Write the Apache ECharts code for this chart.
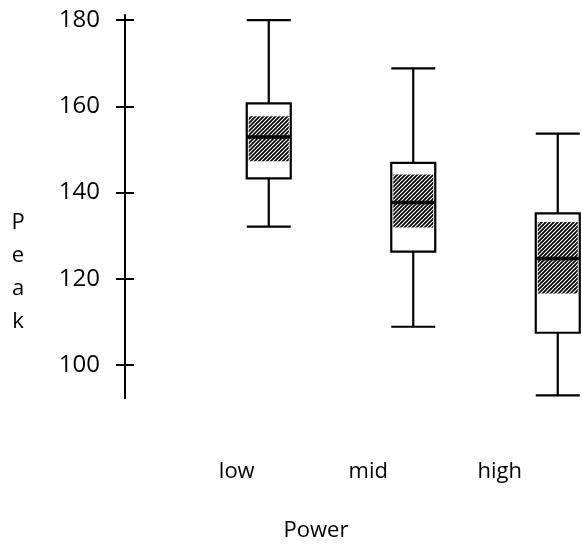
<!DOCTYPE html>
<html>
<head>
<meta charset="utf-8">
<style>
  html, body { margin: 0; padding: 0; background: #fff; }
  #chart { width: 582px; height: 546px; }
</style>
<script src="https://cdn.jsdelivr.net/npm/echarts@6/dist/echarts.min.js"></script>
</head>
<body>
<div id="chart"></div>
<script>
// Peak by power level
const categories = ['low', 'mid', 'high'];
// [lower whisker, Q1, median, Q3, upper whisker]
const boxValues = [
  [132.1, 143.3, 152.9, 160.7, 180.0],
  [108.9, 126.3, 137.7, 146.9, 168.8],
  [93.0, 107.5, 124.7, 135.2, 153.7]
];
// shaded interval around the median: [low, high]
const medianBand = [
  [147.3, 157.7],
  [131.9, 144.2],
  [116.6, 133.2]
];
const yTicks = [100, 120, 140, 160, 180];
const yMin = 92.3;
const yMax = 181.2;

const FONT = '"Open Sans", "Noto Sans", sans-serif';

// diagonal hatching tile
function hatchTile() {
  const s = 4;
  const c = document.createElement('canvas');
  c.width = s; c.height = s;
  const g = c.getContext('2d');
  g.fillStyle = '#fff';
  g.fillRect(0, 0, s, s);
  g.strokeStyle = '#000';
  g.lineWidth = 1.7;
  g.beginPath();
  g.moveTo(-1, s + 1); g.lineTo(s + 1, -1);
  g.moveTo(-1, 1); g.lineTo(1, -1);
  g.moveTo(s - 1, s + 1); g.lineTo(s + 1, s - 1);
  g.stroke();
  return c;
}
const hatch = { image: hatchTile(), repeat: 'repeat' };

const bandData = categories.map((c, i) => [i, medianBand[i][0], medianBand[i][1], boxValues[i][2]]);

const chart = echarts.init(document.getElementById('chart'), null, { renderer: 'canvas' });

const plotTop = 15, plotHeight = 383.3;
const BOX_W = 44;
const TICK = 9;

chart.setOption({
  animation: false,
  backgroundColor: '#fff',
  grid: [
    { left: 125, top: plotTop, width: 382, height: plotHeight, outerBoundsMode: 'none' },
    { left: 196.5, top: plotTop, width: 433.5, height: plotHeight, outerBoundsMode: 'none' },
    { left: 171, top: plotTop, width: 394.5, height: plotHeight, outerBoundsMode: 'none' }
  ],
  xAxis: [
    {
      gridIndex: 0, type: 'category', data: categories,
      axisLine: { show: false }, axisTick: { show: false }, axisLabel: { show: false },
      name: 'Power', nameLocation: 'middle', nameGap: 121,
      nameTextStyle: { fontFamily: FONT, fontSize: 22, color: '#000' }
    },
    {
      gridIndex: 1, type: 'category', data: categories,
      axisLine: { show: false }, axisTick: { show: false }, axisLabel: { show: false }
    },
    {
      gridIndex: 2, type: 'category', data: categories,
      axisLine: { show: false }, axisTick: { show: false },
      axisLabel: { margin: 62, fontFamily: FONT, fontSize: 22, color: '#000' }
    }
  ],
  yAxis: [
    {
      gridIndex: 0, type: 'value', min: yMin, max: yMax,
      splitLine: { show: false },
      axisLine: { show: true, lineStyle: { color: '#000', width: 2 } },
      axisTick: { show: false },
      axisLabel: { customValues: yTicks, margin: 25, fontFamily: FONT, fontSize: 24, color: '#000' }
    },
    {
      // cross ticks straddling the axis line
      gridIndex: 0, type: 'value', min: yMin, max: yMax, position: 'left', offset: -TICK,
      splitLine: { show: false },
      axisLine: { show: true, lineStyle: { color: 'rgba(0,0,0,0)', width: 1 } },
      axisTick: { show: true, length: 2 * TICK, inside: false, customValues: yTicks, lineStyle: { color: '#000', width: 2 } },
      axisLabel: { show: false, customValues: yTicks }
    },
    {
      gridIndex: 1, type: 'value', min: yMin, max: yMax, show: false
    },
    {
      gridIndex: 2, type: 'value', min: yMin, max: yMax, show: false
    }
  ],
  series: [
    {
      type: 'boxplot',
      xAxisIndex: 1, yAxisIndex: 2,
      data: boxValues,
      boxWidth: [BOX_W, BOX_W],
      itemStyle: { color: '#fff', borderColor: '#000', borderWidth: 2.2 },
      silent: true
    },
    {
      type: 'custom',
      xAxisIndex: 1, yAxisIndex: 2,
      data: bandData,
      z: 5,
      silent: true,
      renderItem: function (params, api) {
        const x = api.value(0);
        const lo = api.coord([x, api.value(1)]);
        const hi = api.coord([x, api.value(2)]);
        const med = api.coord([x, api.value(3)]);
        const inner = BOX_W - 4;
        return {
          type: 'group',
          children: [
            {
              type: 'rect',
              shape: { x: lo[0] - inner / 2, y: hi[1], width: inner, height: lo[1] - hi[1] },
              style: { fill: hatch, stroke: null }
            },
            {
              type: 'line',
              shape: { x1: med[0] - BOX_W / 2, y1: med[1], x2: med[0] + BOX_W / 2, y2: med[1] },
              style: { stroke: '#000', lineWidth: 3.5 }
            }
          ]
        };
      }
    }
  ],
  graphic: [
    {
      type: 'text',
      x: 18, y: 272,
      style: {
        text: 'P\ne\na\nk',
        fontFamily: FONT, fontSize: 22, fill: '#000',
        align: 'center', verticalAlign: 'middle', lineHeight: 33
      }
    }
  ]
});
</script>
</body>
</html>
